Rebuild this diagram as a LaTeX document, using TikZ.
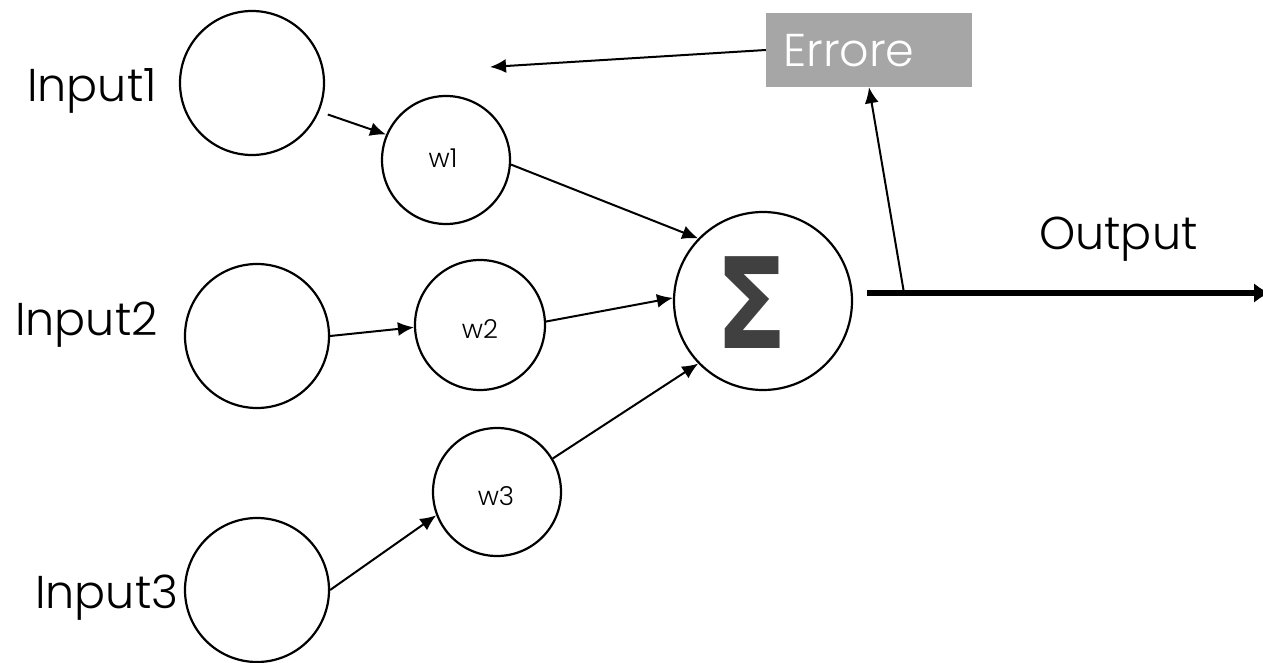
\documentclass[tikz,border=0pt]{standalone}
\usepackage{fontspec}
\setmainfont{Poppins Light}
\newfontfamily\symfont{DejaVu Sans}
\usetikzlibrary{arrows.meta}
\definecolor{boxgray}{HTML}{A6A6A6}
\definecolor{sigmagray}{HTML}{404040}
\tikzset{
  unit/.style={draw, circle, line width=2.2pt, inner sep=0pt},
  arr/.style={line width=2pt, -{Latex[length=16pt,width=14pt]}},
  outarr/.style={line width=6pt, -{Latex[length=16pt,width=20pt]}},
  lbl/.style={inner sep=0pt, font=\fontsize{46}{46}\selectfont},
  wlbl/.style={inner sep=0pt, font=\fontsize{26}{26}\selectfont},
  errbox/.style={fill=boxgray, inner sep=0pt, minimum width=206pt, minimum height=74pt},
}
\begin{document}
\begin{tikzpicture}[x=1pt, y=-1pt]
\useasboundingbox (0,0) rectangle (1263,663);

% input units
\node[unit, minimum size=144pt] (in1) at (252,83) {};
\node[unit, minimum size=144pt] (in2) at (257,336) {};
\node[unit, minimum size=144pt] (in3) at (257,590) {};
\node[lbl, anchor=base west] (l1) at (27,102) {Input1};
\node[lbl, anchor=base west] (l2) at (15,335) {Input2};
\node[lbl, anchor=base west] (l3) at (35,608) {Input3};

% weights
\node[unit, minimum size=128pt] (w1) at (446,160) {};
\node[unit, minimum size=130pt] (w2) at (480,325) {};
\node[unit, minimum size=128pt] (w3) at (497,492) {};
\node[wlbl] (t1) at (443,158) {w1};
\node[wlbl] (t2) at (480,329) {w2};
\node[wlbl] (t3) at (496,496) {w3};

% summation unit
\node[unit, minimum size=178pt] (sig) at (763,301) {};
\node[inner sep=0pt, text=sigmagray, font=\symfont\bfseries\fontsize{126}{126}\selectfont] (sgl) at (752,303) {\scalebox{0.84}[1]{Σ}};

% error box
\node[errbox] (err) at (869,50) {};
\node[lbl, text=white, anchor=base west] (et) at (783,67) {Errore};

% output label
\node[lbl, anchor=base west] (ot) at (1039,249) {Output};

% connectors
\draw[arr, shorten <=9pt] (in1.-23) -- (w1.157);
\draw[arr] (in2.east) -- (w2.182);
\draw[arr] (in3.east) -- (w3.201);
\draw[arr] (w1.-4) -- (sig.136);
\draw[arr] (w2.3) -- (sig.178);
\draw[arr] (w3.31) -- (sig.224);

\coordinate (ostart) at (867,293);
\coordinate (oend) at (1270,293);
\coordinate (tap) at (904,293);
\coordinate (fb) at (490,67);
\draw[outarr] (ostart) -- (oend);
\draw[arr] (tap) -- (err.south);
\draw[arr] (err.west) -- (fb);
\end{tikzpicture}
\end{document}
